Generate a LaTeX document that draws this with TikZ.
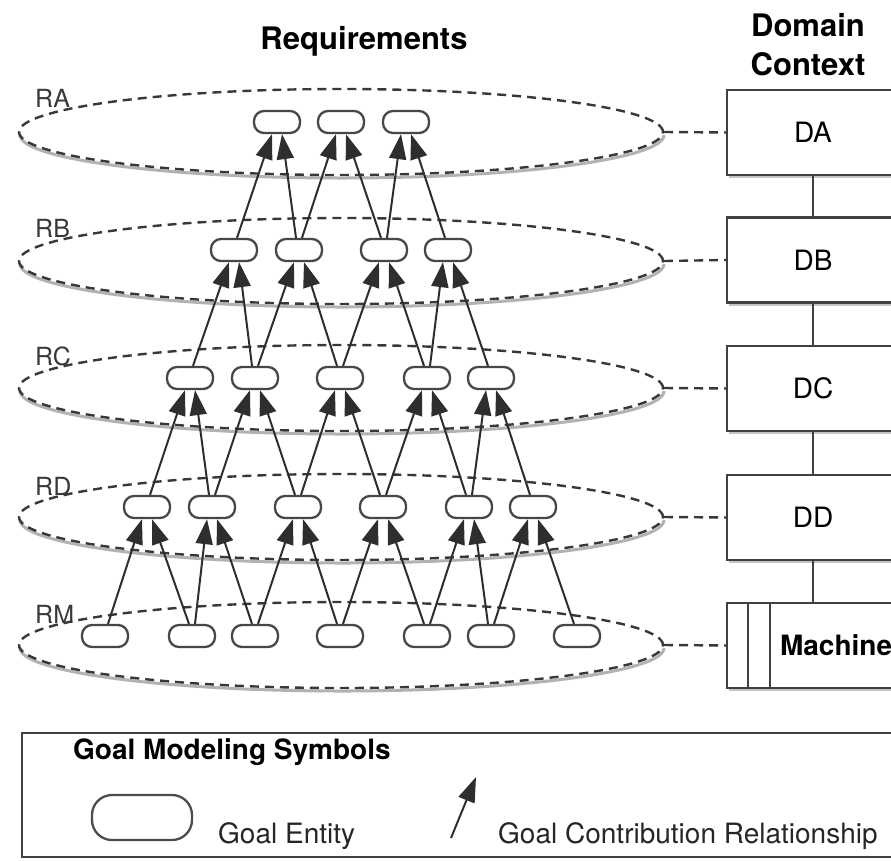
\documentclass[tikz,border=0pt]{standalone}
\usepackage{fontspec}
\setmainfont{TeX Gyre Heros}
\usetikzlibrary{arrows.meta,shapes.geometric,shadows}
\begin{document}
\begin{tikzpicture}[x=1pt,y=-1pt,
  goal/.style={draw=black!72, line width=2.3pt, rounded corners=10pt, fill=white,
    minimum width=46pt, minimum height=22pt, inner sep=0pt},
  contrib/.style={draw=black!82, line width=2pt,
    -{Triangle[length=25pt,width=17pt]}},
  goallayer/.style={ellipse, draw=black!78, line width=2.4pt, dash pattern=on 9pt off 6pt,
    minimum width=644pt, minimum height=86pt, inner sep=0pt},
  layershade/.style={draw=black!30, line width=3pt},
  ctxbox/.style={draw=black!75, line width=2.3pt, fill=white, minimum width=172pt,
    minimum height=85pt, inner sep=0pt,
    drop shadow={shadow xshift=1.5pt, shadow yshift=-3pt, fill=black!45},
    font=\fontsize{28}{30}\selectfont},
  ctxlink/.style={draw=black!78, line width=2.4pt, dash pattern=on 9pt off 6pt},
  ctxchain/.style={draw=black!75, line width=2pt},
  lvl/.style={text=black!78, font=\fontsize{25}{25}\selectfont, anchor=west, inner sep=0pt},
  heading/.style={font=\bfseries\fontsize{31}{39}\selectfont, align=center, inner sep=0pt},
  legendtext/.style={font=\fontsize{28}{30}\selectfont, anchor=base west, inner sep=0pt,
    text=black!85},
]
\useasboundingbox (0,0) rectangle (891,860);
\clip (0,0) rectangle (891,860);

% headings
\node[heading] (req) at (364,41) {Requirements};
\node[heading] (dom) at (808,45) {Domain\\Context};

% requirement layers (dashed ellipses with a soft lower shade)
\foreach \n/\y in {A/132, B/261, C/388, D/517, M/645} {
  \draw[layershade] (664,\y+3) arc[start angle=0, end angle=180, x radius=322, y radius=43];
  \node[goallayer] (e\n) at (341,\y) {};
}

% layer labels
\node[lvl] (lA) at (35,98) {RA};
\node[lvl] (lB) at (35,228) {RB};
\node[lvl] (lC) at (35,356) {RC};
\node[lvl] (lD) at (35,486) {RD};
\node[lvl] (lM) at (35,614) {RM};

% goal entities per layer
\foreach \x [count=\i] in {277,341,406} \node[goal] (a\i) at (\x,122) {};
\foreach \x [count=\i] in {234,299,384,448} \node[goal] (b\i) at (\x,250) {};
\foreach \x [count=\i] in {190,255,340,427,491} \node[goal] (c\i) at (\x,378) {};
\foreach \x [count=\i] in {147,212,298,383,469,533} \node[goal] (d\i) at (\x,507) {};
\foreach \x [count=\i] in {105,192,255,340,427,491,577} \node[goal] (m\i) at (\x,636) {};

% contribution relationships: each goal is fed by its two neighbours below
\foreach \up/\lo/\n in {a/b/3, b/c/4, c/d/5, d/m/6} {
  \foreach \i in {1,...,\n} {
    \pgfmathtruncatemacro\j{\i+1}
    \draw[contrib] ([xshift=3pt]\lo\i.north) -- ([xshift=-5pt]\up\i.south);
    \draw[contrib] ([xshift=-3pt]\lo\j.north) -- ([xshift=5pt]\up\i.south);
  }
}

% domain context column
\node[ctxbox] (DA) at (813,132.5) {DA};
\node[ctxbox] (DB) at (813,260) {DB};
\node[ctxbox] (DC) at (813,388.5) {DC};
\node[ctxbox] (DD) at (813,517.5) {DD};
\node[ctxbox] (MA) at (813,645.5) {};
\draw[ctxchain] ([xshift=22pt]MA.north west) -- ([xshift=22pt]MA.south west);
\draw[ctxchain] ([xshift=44pt]MA.north west) -- ([xshift=44pt]MA.south west);
\node[font=\bfseries\fontsize{28}{30}\selectfont, anchor=west, inner sep=0pt] (mlabel)
  at ([xshift=54pt]MA.west) {Machine};

\draw[ctxchain] (DA.south) -- (DB.north);
\draw[ctxchain] (DB.south) -- (DC.north);
\draw[ctxchain] (DC.south) -- (DD.north);
\draw[ctxchain] (DD.south) -- (MA.north);

% layer-to-domain links
\draw[ctxlink] (eA.east) -- (DA.west);
\draw[ctxlink] (eB.east) -- (DB.west);
\draw[ctxlink] (eC.east) -- (DC.west);
\draw[ctxlink] (eD.east) -- (DD.west);
\draw[ctxlink] (eM.east) -- (MA.west);

% legend
\node[draw=black!75, line width=2.3pt, minimum width=890pt, minimum height=124pt,
  inner sep=0pt] (legend) at (467,795) {};
\node[font=\bfseries\fontsize{28}{30}\selectfont, anchor=west, inner sep=0pt] (ltitle)
  at (73,752) {Goal Modeling Symbols};
\node[draw=black!70, line width=2.3pt, rounded corners=20pt, minimum width=100pt,
  minimum height=45pt, inner sep=0pt] (lgoal) at (142,817.5) {};
\node[legendtext] (lgoaltext) at (218,843) {Goal Entity};
\coordinate (ctail) at (451,838);
\coordinate (chead) at (476,777);
\draw[draw=black!82, line width=2pt, -{Triangle[length=25pt,width=17pt]}] (ctail) -- (chead);
\node[legendtext] (lcontrib) at (498,843) {Goal Contribution Relationship};
\end{tikzpicture}
\end{document}
